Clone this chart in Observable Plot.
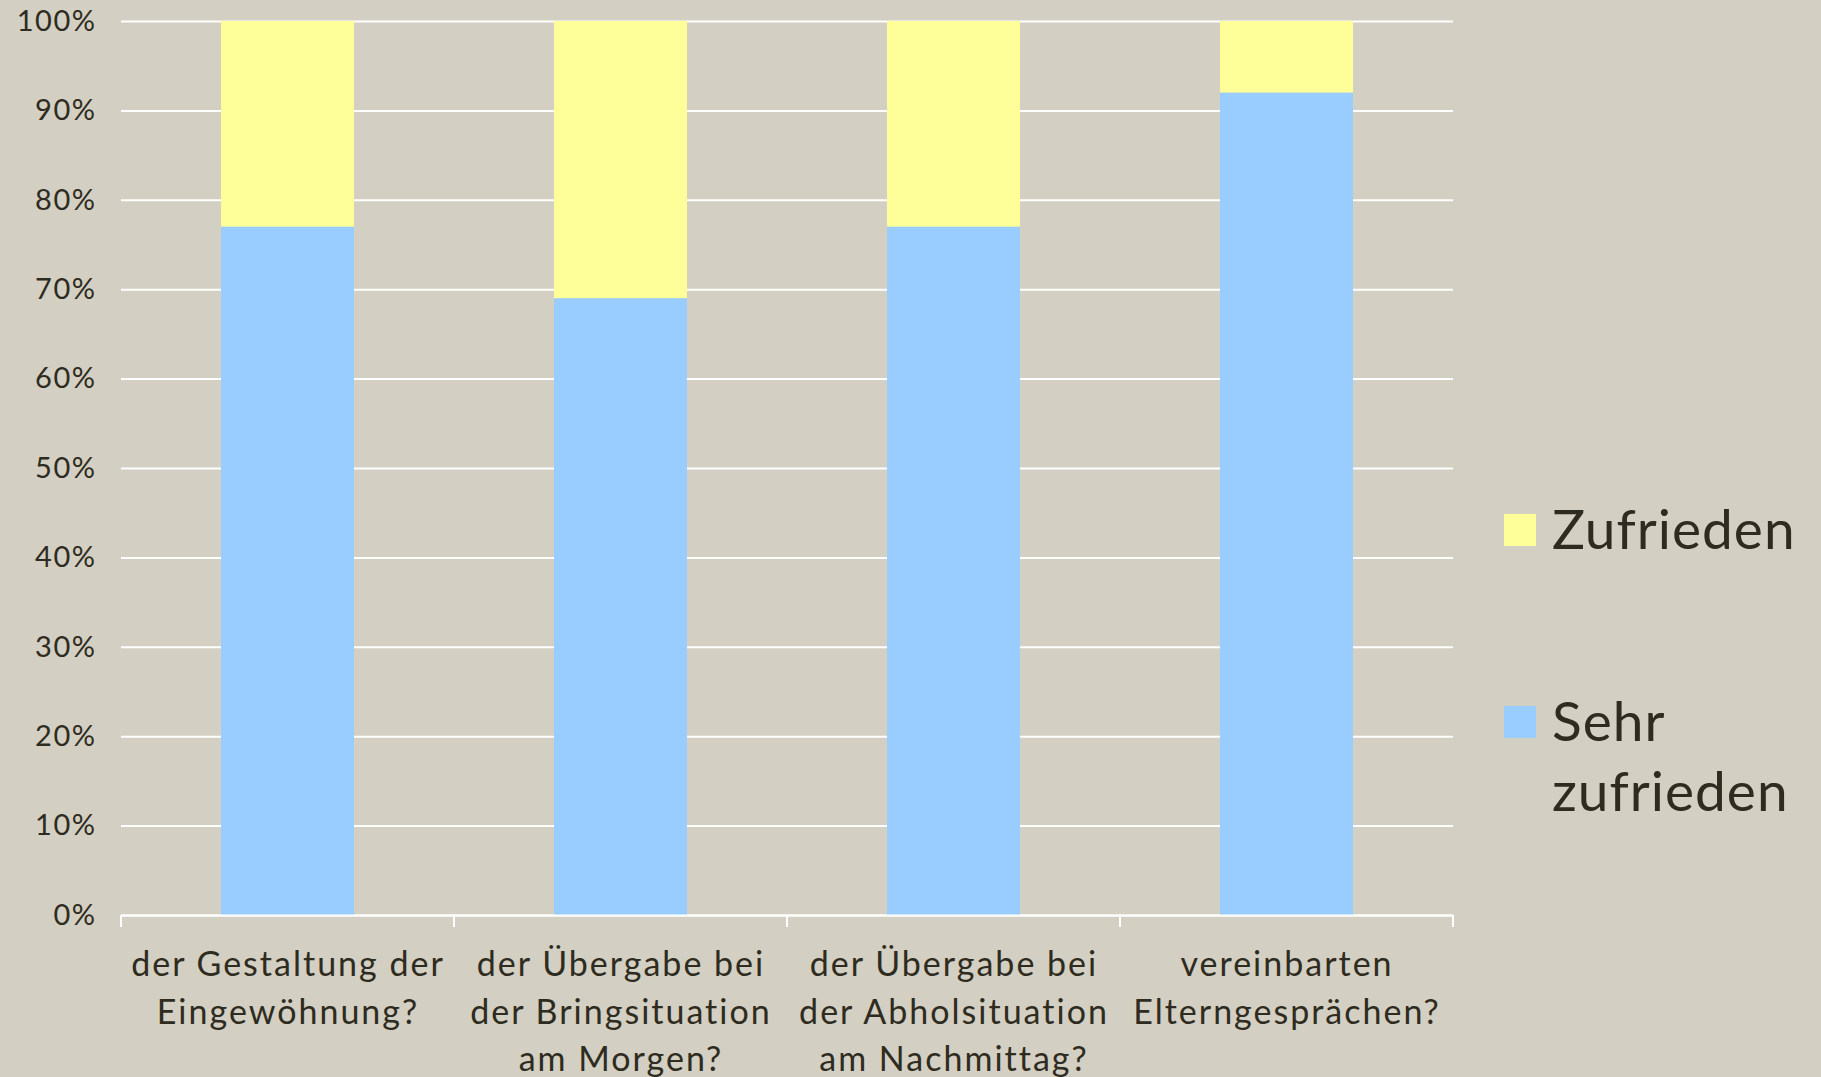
<!DOCTYPE html>
<html>
<head>
<meta charset="utf-8">
<script src="https://cdn.jsdelivr.net/npm/d3@7"></script>
<script src="https://cdn.jsdelivr.net/npm/@observablehq/plot@0.6"></script>
<style>
  html, body { margin: 0; padding: 0; background: #d3cfc2; }
  #wrap { position: relative; width: 1821px; height: 1077px; }
  #legend { position: absolute; left: 1504px; top: 0; font-family: Lato, "Noto Sans", sans-serif; color: #2e2b20; }
  .item { position: absolute; left: 0; width: 320px; }
  .sw { position: absolute; left: 0; width: 32px; height: 32px; }
  .lab { position: absolute; left: 48px; font-size: 55px; line-height: 70px; white-space: nowrap; letter-spacing: 1px; }
</style>
</head>
<body>
<div id="wrap"><div id="legend"></div></div>
<script>
const categories = [
  "der Gestaltung der\nEingewöhnung?",
  "der Übergabe bei\nder Bringsituation\nam Morgen?",
  "der Übergabe bei\nder Abholsituation\nam Nachmittag?",
  "vereinbarten\nElterngesprächen?"
];
const seriesNames = ["Sehr zufrieden", "Zufrieden"];
const sehrZufrieden = [77, 69, 77, 92];
const zufrieden = [23, 31, 23, 8];
const seriesColors = ["#99ccff", "#ffff99"];
const yTicks = [0, 10, 20, 30, 40, 50, 60, 70, 80, 90, 100];

const data = [];
categories.forEach((c, i) => {
  data.push({cat: c, series: seriesNames[0], value: sehrZufrieden[i]});
  data.push({cat: c, series: seriesNames[1], value: zufrieden[i]});
});

const textColor = "#2e2b20";
const font = "Lato, 'Noto Sans', sans-serif";

const chart = Plot.plot({
  width: 1821,
  height: 1077,
  marginLeft: 121,
  marginRight: 368,
  marginTop: 21,
  marginBottom: 162,
  style: {background: "#d3cfc2", fontFamily: font, color: textColor},
  x: {domain: categories, paddingInner: 0.6, paddingOuter: 0.3, align: 0.5},
  y: {domain: [0, 100]},
  color: {domain: seriesNames, range: seriesColors},
  marks: [
    Plot.gridY(yTicks, {stroke: "#ffffff", strokeOpacity: 1, strokeWidth: 2}),
    Plot.barY(data, Plot.stackY({order: seriesNames}, {x: "cat", y: "value", fill: "series"})),
    Plot.ruleY([0], {stroke: "#ffffff", strokeWidth: 2}),
    Plot.axisY(yTicks, {tickSize: 0, tickPadding: 25, tickFormat: d => d + "%", fontSize: 29, fill: textColor, label: null}),
    Plot.axisX({tickSize: 0, tickPadding: 27, fontSize: 34, lineHeight: 1.4, fill: textColor, label: null})
  ]
});

document.getElementById("wrap").prepend(chart);

// letter spacing for axis labels
d3.select(chart).selectAll("g[aria-label='y-axis tick label'] text").attr("letter-spacing", "1.5px");
d3.select(chart).selectAll("g[aria-label='x-axis tick label'] text").attr("letter-spacing", "2px");

// category boundary ticks on x axis
const xs = chart.scale("x");
const step = xs.step;
const ys = chart.scale("y");
const y0 = ys.apply(0);
const bounds = categories.map(c => xs.apply(c) + xs.bandwidth / 2 - step / 2);
bounds.push(xs.apply(categories[categories.length - 1]) + xs.bandwidth / 2 + step / 2);
d3.select(chart).append("g")
  .selectAll("line").data(bounds).join("line")
  .attr("x1", d => d).attr("x2", d => d)
  .attr("y1", y0).attr("y2", y0 + 12)
  .attr("stroke", "#ffffff").attr("stroke-width", 2);

// legend
const legendItems = [
  {name: "Zufrieden", color: seriesColors[1], top: 514, lines: ["Zufrieden"]},
  {name: "Sehr zufrieden", color: seriesColors[0], top: 706, lines: ["Sehr", "zufrieden"]}
];
const lg = d3.select("#legend");
legendItems.forEach(it => {
  const g = lg.append("div").attr("class", "item").style("top", it.top + "px");
  g.append("div").attr("class", "sw").style("background", it.color);
  g.append("div").attr("class", "lab").style("top", "-21px").html(it.lines.join("<br>"));
});
</script>
</body>
</html>
